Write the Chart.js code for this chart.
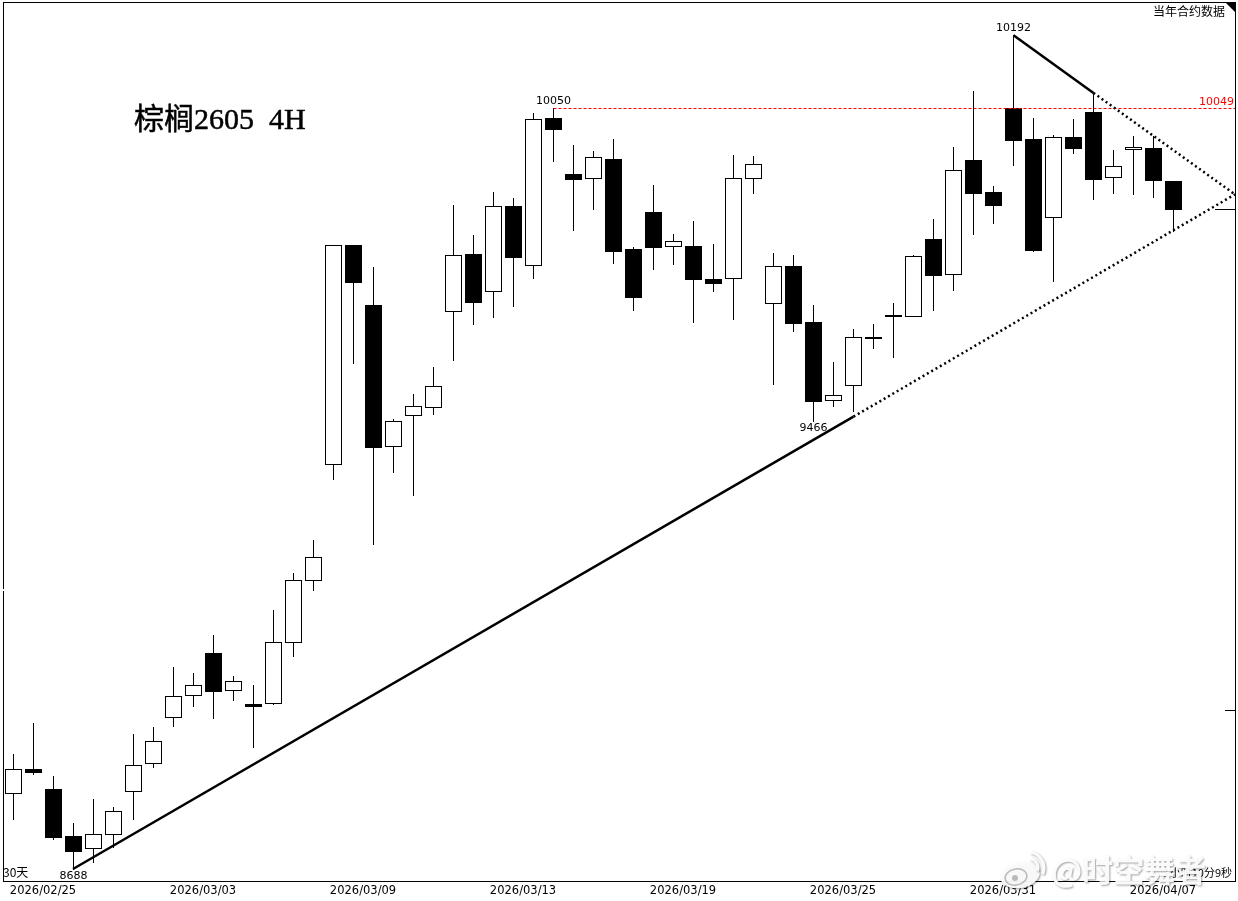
<!DOCTYPE html>
<html>
<head>
<meta charset="utf-8">
<title>棕榈2605 4H</title>
<script src="https://cdn.jsdelivr.net/npm/chart.js@4"></script>
<style>
  body { margin: 0; background: #fff; }
  canvas { display: block; }
</style>
</head>
<body>
<canvas id="klineChart" width="1238" height="901"></canvas>
<script>
const openPrices = [8816,8856,8822,8743,8723,8747,8819,8866,8945,8983,9055,8991,8967,8969,9074,9182,
  9389,9790,9679,9421,9477,9492,9668,9774,9705,9864,9753,10031,9925,9917,9953,9783,9853,9788,9788,9727,
  9729,9917,9683,9751,9647,9505,9532,9619,9658,9658,9802,9737,9951,9890,10050,9991,9843,9995,10043,9919,9972,9975,9911];
const closePrices = [8856,8851,8742,8718,8747,8785,8863,8904,8981,9000,8990,9007,8964,9074,9182,9223,
  9790,9722,9419,9466,9494,9530,9772,9685,9864,9768,10030,10010,9915,9957,9779,9694,9787,9798,9727,9720,
  9917,9944,9751,9645,9503,9514,9619,9618,9658,9770,9735,9933,9888,9866,9989,9781,9995,9975,9915,9940,9976,9913,9858];
const highPrices = [8882,8935,8844,8765,8805,8792,8916,8928,9031,9021,9086,9015,9000,9130,9194,9253,
  9790,9790,9749,9470,9516,9565,9866,9809,9890,9879,10041,10050,9980,9969,9991,9787,9903,9811,9836,9792,
  9961,9959,9775,9772,9679,9574,9634,9643,9682,9772,9839,9976,10084,9902,10192,10031,9999,10030,10080,9971,9997,9997,9911];
const lowPrices = [8772,8848,8738,8688,8700,8725,8772,8860,8929,8964,8942,8974,8894,8966,9050,9164,
  9362,9572,9246,9374,9333,9479,9577,9643,9656,9677,9729,9950,9818,9858,9757,9670,9746,9755,9647,9705,
  9652,9888,9534,9630,9466,9494,9485,9599,9583,9658,9670,9707,9811,9832,9942,9779,9723,9965,9877,9888,9886,9882,9816];

const dateLabels = ['2026/02/25','2026/03/03','2026/03/09','2026/03/13','2026/03/19','2026/03/25','2026/03/31','2026/04/07'];
const dateCandles = [0,8,16,24,32,40,48,56];

// trend lines: candle index / price
const supportIdx = [2.975,42,61.075];
const supportPrices = [8688,9474,9886];
const resistIdx = [50,54,61.075];
const resistPrices = [10192,10080,9886];

const prevHigh = 10049;
const prevHighStart = 27;
const axisTick = 8955;

const xMin = -0.525, xMax = 61.075;
const yMin = 8668, yMax = 10257;

const priceLabels = [
  {i: 3, price: 8688, text: '8688', dy: 7},
  {i: 40, price: 9466, text: '9466', dy: 7},
  {i: 27, price: 10050, text: '10050', dy: -7},
  {i: 50, price: 10192, text: '10192', dy: -7}
];

function segment(xs, ys, from, to) {
  let pts = [];
  for (let i = from; i <= to; i++) pts.push({x: xs[i], y: ys[i]});
  return pts;
}

function lineSet(data, color, width, dash) {
  return {
    type: 'line', data: data, borderColor: color, borderWidth: width, borderDash: dash,
    pointRadius: 0, fill: false, tension: 0, order: 1
  };
}

// snap marks to whole pixels, the reference is drawn without antialiasing
const snapPlugin = {
  id: 'snap',
  beforeDatasetsDraw(chart) {
    chart.data.datasets.forEach((ds, n) => {
      chart.getDatasetMeta(n).data.forEach(el => {
        if (ds.type !== 'line') {
          let top = Math.round(Math.min(el.y, el.base));
          let bottom = Math.round(Math.max(el.y, el.base)) + 1;
          el.y = top;
          el.base = bottom;
        } else if (ds.snapLine) {
          el.y = Math.floor(el.y) + 0.5;
        }
      });
    });
  }
};

const decorPlugin = {
  id: 'decor',
  afterDraw(chart) {
    const c = chart.ctx, a = chart.chartArea;
    const sx = chart.scales.x, sy = chart.scales.y;
    c.save();

    // frame, corner mark, small axis marks
    c.strokeStyle = '#000';
    c.lineWidth = 1;
    c.strokeRect(a.left + 0.5, a.top + 0.5, a.right - a.left, a.bottom - a.top);
    c.fillStyle = '#fff';
    c.fillRect(a.left, 589, 1, 2);
    c.fillStyle = '#000';
    c.beginPath();
    c.moveTo(1225, a.top); c.lineTo(a.right, a.top); c.lineTo(a.right, 12);
    c.fill();
    let ty = Math.floor(sy.getPixelForValue(axisTick)) + 0.5;
    c.beginPath();
    c.moveTo(a.right - 10, ty); c.lineTo(a.right, ty);
    c.stroke();
    let ly = Math.floor(sy.getPixelForValue(closePrices[closePrices.length - 1])) + 0.5;
    c.beginPath();
    c.moveTo(a.right - 20, ly); c.lineTo(a.right, ly);
    c.stroke();

    // title
    c.fillStyle = '#000';
    c.textBaseline = 'middle';
    c.textAlign = 'left';
    c.font = '30px "Liberation Serif", "Noto Sans CJK SC"';
    c.lineWidth = 0.5;
    c.fillText('棕榈2605  4H', 134, 121);
    c.strokeText('棕榈2605  4H', 134, 121);
    c.lineWidth = 1;

    // price labels
    c.font = '11px "DejaVu Sans"';
    c.textAlign = 'center';
    priceLabels.forEach(p => {
      c.fillText(p.text, sx.getPixelForValue(p.i), sy.getPixelForValue(p.price) + p.dy);
    });
    c.textAlign = 'right';
    c.fillStyle = '#ff0000';
    c.fillText(String(prevHigh), 1234, sy.getPixelForValue(prevHigh) - 7);

    c.fillStyle = '#000';
    c.font = '12px "Noto Sans CJK SC"';
    c.textAlign = 'right';
    c.fillText('当年合约数据', 1225, 11);
    c.textAlign = 'left';
    c.fillText('30天', 3, 872);
    c.font = '11px "Noto Sans CJK SC"';
    c.textAlign = 'right';
    c.fillText('1小时10分9秒', 1232, 873);

    // site watermark over everything
    c.shadowColor = 'rgba(0,0,0,0.4)';
    c.shadowBlur = 2;
    c.shadowOffsetX = 1;
    c.shadowOffsetY = 1;
    c.fillStyle = 'rgba(255,255,255,0.93)';
    c.textAlign = 'left';
    c.font = 'bold 31px "Noto Sans CJK SC"';
    c.fillText('@时空舞者', 1051, 870);
    c.beginPath();
    c.ellipse(1020, 875, 20, 13, -0.2, 0, Math.PI * 2);
    c.fill();
    c.strokeStyle = 'rgba(255,255,255,0.93)';
    c.lineWidth = 3;
    c.beginPath();
    c.arc(1028, 868, 10, -1.3, 0.3);
    c.stroke();
    c.beginPath();
    c.arc(1028, 868, 16, -1.4, 0.4);
    c.stroke();
    c.shadowColor = 'transparent';
    c.strokeStyle = 'rgba(170,170,170,0.8)';
    c.lineWidth = 1.5;
    c.beginPath();
    c.ellipse(1016, 877, 11, 8, -0.2, 0, Math.PI * 2);
    c.stroke();
    c.fillStyle = 'rgba(170,170,170,0.8)';
    c.beginPath();
    c.arc(1015, 878, 3, 0, Math.PI * 2);
    c.fill();
    c.restore();
  }
};

function grafico_velas() {
  let ctx = document.getElementById('klineChart').getContext('2d');
  let n = openPrices.length;
  let idx = Array.from({length: n}, (_, i) => i);
  new Chart(ctx, {
    type: 'bar',
    data: {
      datasets: [
        {
          data: idx.map(i => ({x: i, y: [lowPrices[i], highPrices[i]]})),
          backgroundColor: '#000', borderWidth: 0, barThickness: 1,
          borderSkipped: false, inflateAmount: 0, grouped: false, order: 3
        },
        {
          data: idx.map(i => ({x: i, y: [openPrices[i], closePrices[i]]})),
          backgroundColor: idx.map(i => closePrices[i] >= openPrices[i] ? '#fff' : '#000'),
          borderColor: '#000', borderWidth: 1, barThickness: 17, minBarLength: 1,
          borderSkipped: false, inflateAmount: 0, grouped: false, order: 2
        },
        lineSet(segment(supportIdx, supportPrices, 0, 1), '#000', 2.5, []),
        lineSet(segment(supportIdx, supportPrices, 1, 2), '#000', 2.5, [2, 3]),
        lineSet(segment(resistIdx, resistPrices, 0, 1), '#000', 2.5, []),
        lineSet(segment(resistIdx, resistPrices, 1, 2), '#000', 2.5, [2, 3]),
        Object.assign(lineSet([{x: prevHighStart, y: prevHigh}, {x: xMax, y: prevHigh}], '#ff0000', 1, [3, 2]), {snapLine: true})
      ]
    },
    plugins: [snapPlugin, decorPlugin],
    options: {
      responsive: false,
      devicePixelRatio: 1,
      animation: false,
      events: [],
      layout: {padding: {left: 3, right: 3, top: 2, bottom: 0}},
      plugins: {legend: {display: false}, tooltip: {enabled: false}},
      scales: {
        x: {
          type: 'linear', min: xMin, max: xMax, offset: false,
          grid: {display: false, offset: false, drawTicks: false},
          border: {display: false},
          afterBuildTicks(scale) {
            scale.ticks = dateCandles.map(v => ({value: v + 1.475}));
          },
          afterFit(scale) { scale.height = 20; },
          ticks: {
            autoSkip: false, maxRotation: 0, padding: 3, color: '#000',
            font: {family: '"DejaVu Sans"', size: 11.5},
            callback(value) {
              return dateLabels[dateCandles.indexOf(Math.round(value - 1.475))];
            }
          }
        },
        y: {type: 'logarithmic', min: yMin, max: yMax, display: false, grid: {display: false}}
      }
    }
  });
}

grafico_velas();
</script>
</body>
</html>
